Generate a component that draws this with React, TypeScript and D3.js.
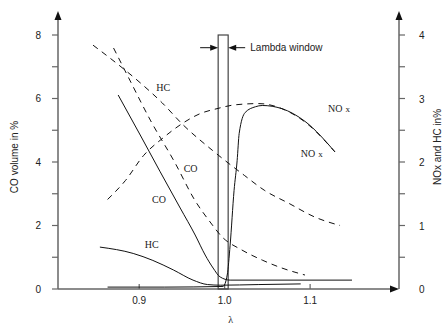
// Exhaust emissions vs lambda, before (dashed) and after (solid) the converter
import React from "react";
import * as d3 from "d3";

type Pt = [number, number];

const W = 444;
const H = 325;

// lambda, CO in % (left axis)
const coBefore: Pt[] = [
  [0.87, 7.59], [0.889, 6.58], [0.913, 5.32], [0.942, 3.97], [0.965, 2.8],
  [0.983, 2.11], [0.997, 1.64], [1.02, 1.23], [1.044, 0.91], [1.067, 0.66], [1.094, 0.44],
];
const coAfter: Pt[] = [
  [0.8754, 6.11], [0.9012, 4.85], [0.9246, 3.69], [0.948, 2.55], [0.9655, 1.7],
  [0.9772, 1.07], [0.9865, 0.66], [0.9947, 0.38], [1.0064, 0.28], [1.08, 0.28], [1.149, 0.28],
];

// lambda, HC / NOx in % (right axis)
const hcBefore: Pt[] = [
  [0.846, 3.84], [0.874, 3.55], [0.901, 3.25], [0.927, 2.93], [0.951, 2.59],
  [0.986, 2.18], [1.023, 1.79], [1.047, 1.55], [1.075, 1.35], [1.106, 1.13], [1.135, 1.0],
];
const hcAfter: Pt[] = [
  [0.854, 0.66], [0.893, 0.56], [0.916, 0.45], [0.94, 0.3], [0.963, 0.14],
  [0.98, 0.07], [0.995, 0.06], [1.04, 0.07], [1.089, 0.08],
];
const noxBefore: Pt[] = [
  [0.863, 1.41], [0.884, 1.71], [0.905, 2.1], [0.928, 2.38], [0.952, 2.62],
  [0.971, 2.76], [0.991, 2.84], [1.012, 2.9], [1.04, 2.92], [1.067, 2.84],
  [1.094, 2.63], [1.129, 2.16],
];
const noxAfter: Pt[] = [
  [0.863, 0.03], [0.93, 0.03], [0.998, 0.04], [1.003, 0.22], [1.0064, 0.69],
  [1.011, 1.55], [1.0146, 2.02], [1.017, 2.45], [1.024, 2.78], [1.036, 2.87],
  [1.044, 2.89], [1.067, 2.84], [1.094, 2.64], [1.129, 2.16],
];

const xTicks = [0.9, 1.0, 1.1];
const leftTicks = [0, 1, 2, 3, 4, 5, 6, 7, 8];
const rightTicks = [0, 0.5, 1, 1.5, 2, 2.5, 3, 3.5, 4];
const lambdaWindow: [number, number] = [0.9924, 1.0041];

const sans = "Liberation Sans, Arial, sans-serif";
const serif = "Liberation Serif, Times New Roman, serif";
const axisColor = "#666";

export default function App() {
  const x = d3.scaleLinear().domain([0.805, 1.204]).range([58, 399]);
  const yL = d3.scaleLinear().domain([0, 8]).range([289, 35]);
  const yR = d3.scaleLinear().domain([0, 4]).range([289, 35]);

  const lineL = d3.line<Pt>().x((d) => x(d[0])).y((d) => yL(d[1])).curve(d3.curveMonotoneX);
  const lineR = d3.line<Pt>().x((d) => x(d[0])).y((d) => yR(d[1])).curve(d3.curveMonotoneX);

  const x0 = x.range()[0];
  const x1 = x.range()[1];
  const y0 = yL(0);
  const arrowY = yL(7.6);

  return (
    <svg width={W} height={H} style={{ position: "absolute", left: 0, top: 0 }}>
      <rect width={W} height={H} fill="#fff" />

      {/* axes */}
      <line x1={x0} y1={y0} x2={x0} y2={18} stroke={axisColor} strokeWidth={1.5} />
      <path d={`M${x0 - 3.5},${20} L${x0},${11} L${x0 + 3.5},${20} Z`} fill="#111" />
      <line x1={x1} y1={y0} x2={x1} y2={18} stroke={axisColor} strokeWidth={1.5} />
      <path d={`M${x1 - 3.5},${20} L${x1},${11} L${x1 + 3.5},${20} Z`} fill="#111" />
      <line x1={x0} y1={y0} x2={x1 - 6} y2={y0} stroke={axisColor} strokeWidth={1.5} />
      <path d={`M${x1 - 9},${y0 - 3.5} L${x1},${y0} L${x1 - 9},${y0 + 3.5} Z`} fill="#111" />

      {leftTicks.map((t) => (
        <g key={"l" + t}>
          <line x1={x0 - 6} x2={x0} y1={yL(t)} y2={yL(t)} stroke={axisColor} strokeWidth={1.2} />
          {t % 2 === 0 && (
            <text x={41} y={yL(t) + 3.5} textAnchor="end" fontSize={10} fontFamily={sans} fill="#222">
              {t}
            </text>
          )}
        </g>
      ))}
      {rightTicks.map((t) => (
        <g key={"r" + t}>
          {t > 0 && (
            <line x1={x1} x2={x1 + 6} y1={yR(t)} y2={yR(t)} stroke={axisColor} strokeWidth={1.2} />
          )}
          {Number.isInteger(t) && (
            <text x={419} y={yR(t) + 4} fontSize={10} fontFamily={sans} fill="#222">
              {t}
            </text>
          )}
        </g>
      ))}
      {xTicks.map((t) => (
        <g key={"x" + t}>
          <line x1={x(t)} x2={x(t)} y1={y0 - 5} y2={y0} stroke={axisColor} strokeWidth={1.2} />
          <text x={x(t)} y={y0 + 15} textAnchor="middle" fontSize={10} fontFamily={sans} fill="#222">
            {t.toFixed(1)}
          </text>
        </g>
      ))}

      <text x={x(1.007)} y={323} textAnchor="middle" fontSize={10} fontFamily={serif} fill="#222">
        λ
      </text>
      <text
        transform={`translate(18,${157}) rotate(-90)`}
        textAnchor="middle"
        fontSize={10}
        fontFamily={sans}
        fill="#222"
      >
        CO volume in %
      </text>
      <text
        transform={`translate(441,${147}) rotate(-90)`}
        textAnchor="middle"
        fontSize={10}
        fontFamily={sans}
        fill="#222"
      >
        NOx and HC in%
      </text>

      {/* lambda window */}
      <rect
        x={x(lambdaWindow[0])}
        y={yL(8)}
        width={x(lambdaWindow[1]) - x(lambdaWindow[0])}
        height={y0 - yL(8)}
        fill="none"
        stroke="#444"
        strokeWidth={1.2}
      />
      <line x1={x(0.9713)} x2={x(lambdaWindow[0]) - 5} y1={arrowY} y2={arrowY} stroke="#111" />
      <path
        d={`M${x(lambdaWindow[0]) - 8},${arrowY - 3} L${x(lambdaWindow[0])},${arrowY} L${x(lambdaWindow[0]) - 8},${arrowY + 3} Z`}
        fill="#111"
      />
      <line x1={x(1.024)} x2={x(lambdaWindow[1]) + 5} y1={arrowY} y2={arrowY} stroke="#111" />
      <path
        d={`M${x(lambdaWindow[1]) + 8},${arrowY - 3} L${x(lambdaWindow[1])},${arrowY} L${x(lambdaWindow[1]) + 8},${arrowY + 3} Z`}
        fill="#111"
      />
      <text x={x(1.03)} y={arrowY + 3.5} fontSize={10} fontFamily={sans} fill="#222">
        Lambda window
      </text>

      {/* curves */}
      <g fill="none" stroke="#111" strokeWidth={1}>
        <path d={lineL(coBefore) ?? ""} strokeDasharray="6,5" />
        <path d={lineR(hcBefore) ?? ""} strokeDasharray="6,5" />
        <path d={lineR(noxBefore) ?? ""} strokeDasharray="6,5" />
        <path d={lineL(coAfter) ?? ""} />
        <path d={lineR(hcAfter) ?? ""} />
        <path d={lineR(noxAfter) ?? ""} />
      </g>

      {/* curve labels */}
      <g fontSize={10} fontFamily={serif} fill="#222">
        <text x={x(0.92)} y={yR(3.12)}>HC</text>
        <text x={x(0.952)} y={yL(3.7)}>CO</text>
        <text x={x(0.915)} y={yL(2.72)}>CO</text>
        <text x={x(0.9065)} y={yR(0.64)}>HC</text>
        <text x={x(1.121)} y={yR(2.78)}>
          NO<tspan fontSize={9} dx={3}>x</tspan>
        </text>
        <text x={x(1.089)} y={yR(2.08)}>
          NO<tspan fontSize={9} dx={3}>x</tspan>
        </text>
      </g>
    </svg>
  );
}
